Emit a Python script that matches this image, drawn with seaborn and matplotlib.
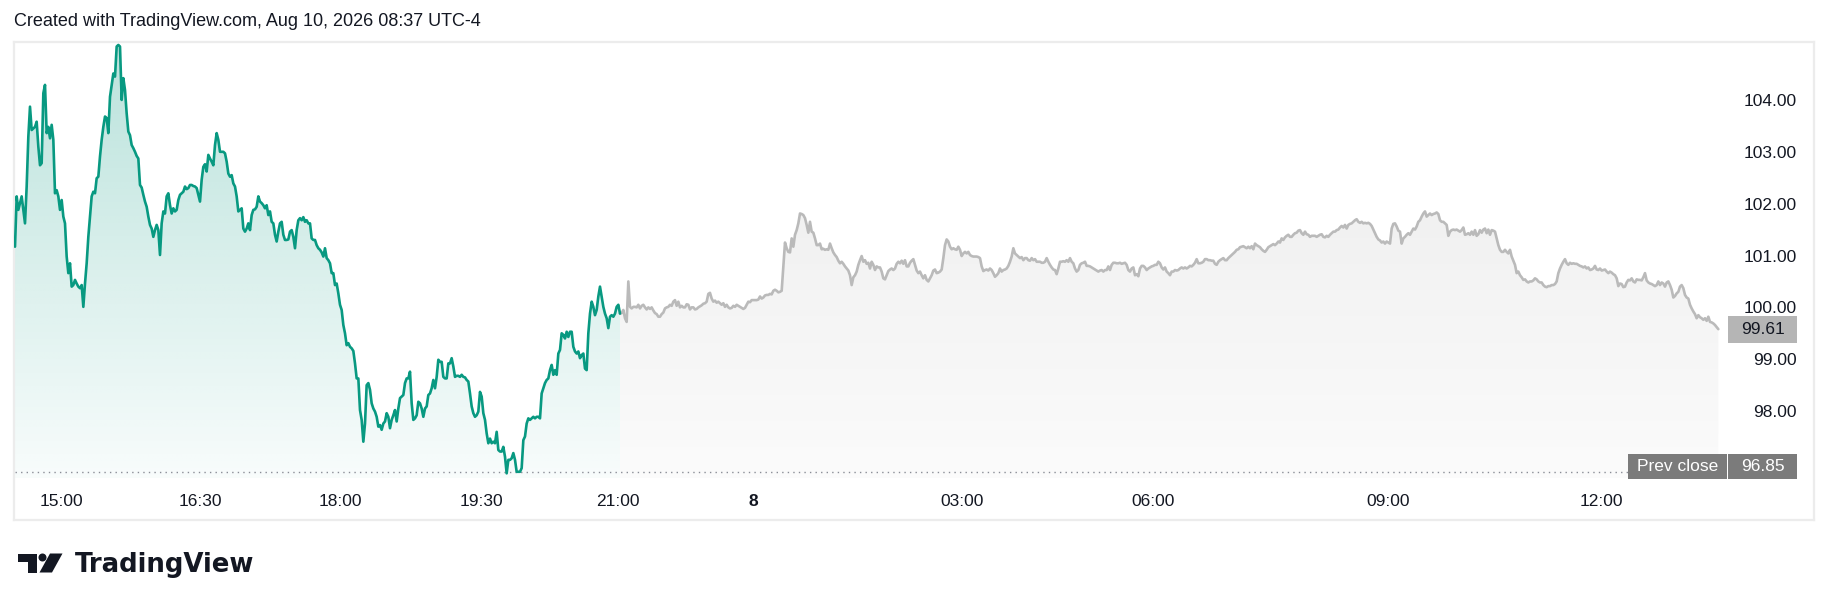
import numpy as np
import pandas as pd
import matplotlib
matplotlib.use("Agg")
import matplotlib.pyplot as plt
import matplotlib.patches as mpatches
import matplotlib.transforms as mtransforms
import seaborn as sns

# ---------------- data ----------------
TITLE = "Created with TradingView.com, Aug 10, 2026 08:37 UTC-4"
BRAND = "TradingView"
PREV_CLOSE = 96.85
PRICE_TICKS = [98.0, 99.0, 100.0, 101.0, 102.0, 103.0, 104.0]
TIME_LABELS = ["15:00", "16:30", "18:00", "19:30", "21:00", "8", "03:00", "06:00", "09:00", "12:00"]
TIME_BARS = [28, 111, 195, 280, 362, 443, 568, 683, 824, 952]
BOLD_LABELS = ["8"]

session_early = [
    101.20, 102.17, 101.91, 102.04, 102.17, 101.91, 101.65, 102.36, 103.32, 103.90,
    103.45, 103.48, 103.51, 103.61, 103.13, 102.77, 102.81, 104.16, 104.32, 103.39,
    103.51, 103.29, 103.55, 103.26, 102.23, 102.29, 102.17, 101.91, 102.10, 101.78,
    101.65, 101.01, 100.69, 100.88, 100.43, 100.46, 100.56, 100.49, 100.43, 100.40,
    100.46, 100.04, 100.49, 100.88, 101.39, 101.78, 102.17, 102.26, 102.23, 102.52,
    102.55, 102.94, 103.26, 103.51, 103.71, 103.68, 103.39, 104.09, 104.32, 104.54,
    104.48, 105.06, 105.09, 105.06, 104.03, 104.45, 104.22, 103.77, 103.42, 103.35,
    103.16, 103.10, 103.03, 102.95, 102.90, 102.39, 102.34, 102.20, 102.07, 101.97,
    101.78, 101.62, 101.55, 101.39, 101.52, 101.62, 101.52, 101.04, 101.65, 101.88,
    101.84, 102.17, 102.23, 102.00, 101.84, 101.94, 101.88, 101.91, 102.10, 102.20,
    102.23, 102.26, 102.36, 102.31, 102.33, 102.39, 102.39, 102.37, 102.36, 102.33,
    102.20, 102.07, 102.49, 102.74, 102.79, 102.65, 102.97, 102.90, 102.84, 102.77,
    103.16, 103.39, 103.26, 103.03, 103.03, 103.03, 103.00, 102.84, 102.61, 102.55,
    102.58, 102.42, 102.36, 102.17, 101.88, 101.91, 101.94, 101.55, 101.49, 101.55,
    101.65, 101.52, 101.81, 101.91, 101.92, 101.97, 102.17, 102.07, 102.04, 102.00,
    101.94, 102.00, 101.81, 101.88, 101.68, 101.65, 101.43, 101.30, 101.49, 101.65,
    101.68, 101.43, 101.33, 101.33, 101.34, 101.49, 101.52, 101.39, 101.17, 101.52,
    101.71, 101.75, 101.71, 101.77, 101.68, 101.71, 101.65, 101.65, 101.36, 101.33,
    101.33, 101.23, 101.17, 101.14, 101.09, 101.01, 101.17, 100.98, 100.94,
]

session_late = [
    100.88, 100.69, 100.69, 100.46, 100.49, 100.30, 100.08, 99.98, 99.69, 99.53,
    99.30, 99.34, 99.27, 99.24, 99.19, 98.95, 98.66, 98.66, 98.05, 97.86,
    97.44, 97.79, 98.53, 98.57, 98.44, 98.18, 98.08, 98.02, 97.92, 97.73,
    97.76, 97.67, 97.79, 97.83, 97.99, 97.92, 97.70, 97.86, 97.95, 98.05,
    97.83, 98.08, 98.28, 98.31, 98.34, 98.57, 98.66, 98.66, 98.79, 98.18,
    97.86, 97.89, 97.95, 98.21, 98.18, 98.08, 97.92, 98.08, 98.12, 98.34,
    98.37, 98.47, 98.63, 98.47, 98.69, 99.02, 98.98, 98.98, 98.69, 98.66,
    98.66, 98.95, 98.95, 99.05, 98.89, 98.69, 98.71, 98.71, 98.69, 98.73,
    98.69, 98.68, 98.63, 98.60, 98.37, 98.12, 97.99, 97.92, 97.95, 98.02,
    98.40, 98.31, 97.99, 97.86, 97.60, 97.41, 97.50, 97.41, 97.44, 97.41,
    97.63, 97.28, 97.25, 97.25, 97.34, 97.15, 96.83, 97.09, 97.09, 97.12,
    97.22, 97.09, 96.86, 96.86, 96.86, 96.93, 97.47, 97.54, 97.79, 97.89,
    97.86, 97.89, 97.92, 97.89, 97.92, 97.92, 97.89, 98.37, 98.47, 98.57,
    98.63, 98.66, 98.82, 98.92, 98.73, 98.82, 98.73, 99.14, 99.21, 99.53,
    99.50, 99.43, 99.56, 99.46, 99.56, 99.56, 99.27, 99.18, 99.14, 99.18,
    99.05, 99.11, 99.14, 98.85, 98.82, 99.53, 99.91, 100.14, 100.04, 99.88,
    99.98, 100.24, 100.43, 100.24, 100.04, 99.91, 99.82, 99.63, 99.85, 99.88,
    99.85, 99.91, 100.04, 100.08, 99.91,
]

ext_evening = [
    99.92, 99.98, 99.82, 99.75, 100.53, 100.04, 100.01, 100.04, 100.04, 100.03,
    100.08, 100.01, 100.06, 100.08, 100.03, 99.99, 100.03, 100.00, 100.03, 99.97,
    99.92, 99.90, 99.85, 99.85, 99.90, 99.93, 100.01, 100.03, 100.04, 100.08,
    100.06, 100.14, 100.17, 100.06, 100.14, 100.03, 100.06, 100.03, 100.03, 100.09,
    100.08, 99.99, 100.03, 100.03, 99.99, 100.00, 100.03, 100.05, 100.07, 100.10,
    100.11, 100.14, 100.29, 100.31, 100.20, 100.14, 100.16, 100.12, 100.14, 100.11,
    100.08, 100.11, 100.04, 100.08, 100.03, 100.01, 100.02, 100.06, 100.04, 100.08,
    100.06, 100.04, 100.02, 100.00, 100.02, 100.08, 100.14, 100.13, 100.17, 100.17,
    100.17, 100.17, 100.18, 100.24, 100.20, 100.22, 100.26, 100.27, 100.27, 100.29,
    100.28, 100.35, 100.37, 100.35, 100.32, 100.33, 100.35, 100.82, 101.28, 101.17,
    101.10, 101.09, 101.36, 101.20, 101.43, 101.52, 101.65, 101.84, 101.83, 101.81,
    101.75, 101.62, 101.47, 101.68, 101.49, 101.47, 101.36, 101.23, 101.23, 101.26,
    101.15, 101.16, 101.14, 101.15, 101.14, 101.26, 101.17, 101.09, 101.04, 101.00,
    100.93, 100.88, 100.91, 100.87, 100.82, 100.78, 100.74, 100.65, 100.46, 100.61,
    100.65, 100.72, 100.85, 100.94, 101.02, 100.91, 100.94, 100.87, 100.89, 100.78,
    100.91, 100.85, 100.75, 100.82, 100.80, 100.80, 100.72, 100.59, 100.57, 100.65,
    100.73, 100.76, 100.78, 100.75, 100.78, 100.87, 100.91, 100.88, 100.93, 100.87,
    100.94, 100.82, 100.82, 100.89, 100.93, 100.96, 100.85, 100.74, 100.69,
]

ext_night = [
    100.72, 100.65, 100.59, 100.65, 100.56, 100.53, 100.59, 100.65, 100.74, 100.76,
    100.69, 100.70, 100.72, 100.76, 100.98, 101.23, 101.34, 101.30, 101.20, 101.15,
    101.17, 101.15, 101.14, 101.20, 101.14, 101.02, 101.07, 101.10, 101.07, 101.10,
    101.04, 101.02, 101.01, 101.01, 101.01, 101.00, 100.98, 100.82, 100.73, 100.75,
    100.76, 100.74, 100.78, 100.75, 100.69, 100.62, 100.65, 100.69, 100.78, 100.72,
    100.75, 100.76, 100.78, 100.83, 100.91, 101.01, 101.17, 101.07, 101.04, 101.01,
    100.98, 101.00, 100.94, 100.98, 100.98, 100.94, 100.93, 100.98, 100.94, 100.96,
    100.91, 100.91, 100.91, 100.89, 100.89, 100.91, 100.98, 100.91, 100.85, 100.80,
    100.76, 100.75, 100.67, 100.78, 100.91, 100.91, 100.92, 100.91, 100.94, 100.91,
    100.98, 100.91, 100.88, 100.78, 100.72, 100.75, 100.85, 100.88, 100.89, 100.91,
    100.83, 100.83, 100.82, 100.80, 100.78, 100.76, 100.74, 100.72, 100.74, 100.75,
    100.72, 100.75, 100.75, 100.82, 100.75, 100.85, 100.89, 100.89, 100.88, 100.88,
    100.89, 100.87, 100.88, 100.89, 100.85, 100.75, 100.72, 100.78, 100.80, 100.65,
    100.67, 100.63, 100.78, 100.83, 100.83, 100.80, 100.75, 100.78, 100.80, 100.82,
    100.83, 100.85, 100.85, 100.91, 100.88, 100.80, 100.76, 100.80, 100.72, 100.69,
    100.65, 100.72, 100.72, 100.75, 100.74, 100.75, 100.78, 100.80, 100.78, 100.80,
    100.78, 100.80, 100.83, 100.82, 100.85, 100.89, 100.96, 100.88, 100.88, 100.89,
    100.91, 100.96, 100.96, 100.94, 100.94, 100.93, 100.93, 100.87, 100.85, 100.91,
]

ext_morning = [
    100.94, 100.96, 100.98, 100.94, 100.94, 100.98, 101.01, 101.04, 101.07, 101.10,
    101.14, 101.15, 101.19, 101.20, 101.21, 101.19, 101.17, 101.20, 101.17, 101.21,
    101.15, 101.26, 101.23, 101.21, 101.19, 101.15, 101.12, 101.10, 101.14, 101.19,
    101.21, 101.23, 101.25, 101.23, 101.26, 101.30, 101.28, 101.36, 101.33, 101.38,
    101.41, 101.43, 101.39, 101.39, 101.43, 101.46, 101.47, 101.51, 101.52, 101.46,
    101.43, 101.49, 101.44, 101.43, 101.39, 101.41, 101.41, 101.41, 101.39, 101.41,
    101.43, 101.44, 101.39, 101.38, 101.41, 101.39, 101.43, 101.46, 101.49, 101.49,
    101.52, 101.53, 101.57, 101.60, 101.57, 101.62, 101.55, 101.62, 101.64, 101.65,
    101.68, 101.71, 101.73, 101.68, 101.66, 101.68, 101.65, 101.66, 101.65, 101.66,
    101.64, 101.60, 101.53, 101.46, 101.39, 101.34, 101.32, 101.28, 101.30, 101.26,
    101.30, 101.28, 101.26, 101.55, 101.64, 101.65, 101.59, 101.51, 101.49, 101.26,
    101.36, 101.39, 101.43, 101.46, 101.43, 101.49, 101.55, 101.53, 101.59, 101.68,
    101.71, 101.78, 101.84, 101.88, 101.78, 101.81, 101.84, 101.81, 101.83, 101.84,
    101.86, 101.83, 101.71, 101.68, 101.68, 101.65, 101.62, 101.41, 101.49, 101.52,
    101.53, 101.52, 101.53, 101.51, 101.49, 101.52, 101.57, 101.43, 101.44, 101.46,
    101.43, 101.49, 101.43, 101.52, 101.41, 101.44, 101.52, 101.47, 101.53, 101.55,
    101.46, 101.53, 101.43, 101.52, 101.51, 101.49, 101.36, 101.23, 101.14, 101.10,
    101.10, 101.14, 101.10, 101.07, 101.14, 101.01, 100.93, 100.85, 100.69, 100.72,
]

ext_late = [
    100.65, 100.61, 100.56, 100.57, 100.53, 100.51, 100.53, 100.53, 100.55, 100.59,
    100.57, 100.53, 100.51, 100.51, 100.46, 100.43, 100.42, 100.44, 100.44, 100.46,
    100.46, 100.48, 100.53, 100.69, 100.78, 100.85, 100.91, 100.96, 100.88, 100.85,
    100.89, 100.87, 100.88, 100.87, 100.87, 100.85, 100.83, 100.82, 100.80, 100.82,
    100.78, 100.80, 100.75, 100.76, 100.78, 100.83, 100.76, 100.75, 100.78, 100.74,
    100.75, 100.76, 100.72, 100.69, 100.72, 100.70, 100.67, 100.65, 100.59, 100.44,
    100.49, 100.48, 100.42, 100.43, 100.51, 100.56, 100.55, 100.59, 100.53, 100.51,
    100.57, 100.56, 100.56, 100.55, 100.61, 100.69, 100.55, 100.51, 100.49, 100.48,
    100.46, 100.44, 100.46, 100.53, 100.46, 100.51, 100.49, 100.43, 100.51, 100.53,
    100.46, 100.37, 100.22, 100.25, 100.30, 100.33, 100.43, 100.46, 100.40, 100.27,
    100.22, 100.20, 100.08, 100.01, 99.95, 99.90, 99.82, 99.88, 99.84, 99.82,
    99.79, 99.82, 99.77, 99.85, 99.75, 99.74, 99.72, 99.69, 99.65, 99.61,
]

# ---------------- frames ----------------
regular = np.array(session_early + session_late)
extended = np.array(ext_evening + ext_night + ext_morning + ext_late)
n_reg = len(regular)
df_reg = pd.DataFrame({"bar": np.arange(n_reg), "price": regular})
df_ext = pd.DataFrame({
    "bar": np.arange(n_reg - 1, n_reg + len(extended)),
    "price": np.concatenate([[regular[-1]], extended]),
})
last_price = extended[-1]

# ---------------- style ----------------
sns.set_theme(style="white")
plt.rcParams["font.family"] = ["Liberation Sans", "DejaVu Sans"]

GREEN = "#089981"
GREY_LINE = "#bababa"
TEXT = "#131722"
W, H = 1830, 611
fig = plt.figure(figsize=(W / 100, H / 100), dpi=100)
fig.patch.set_facecolor("white")

# main pane (box from px 14..1814, 42..520)
ax = fig.add_axes([14 / W, 1 - 520 / H, 1800 / W, 478 / H])
ax.set_facecolor("white")
X0, X1 = -0.6, 1079.4
Y0, Y1 = 95.93, 105.147
FILL_BOTTOM = 96.74


def gradient_under(ax, x, y, rgb, a_top, a_bot, y_top, y_bot, z):
    poly = ax.fill_between(x, y, y_bot, facecolor="none", edgecolor="none", linewidth=0)
    img = np.zeros((256, 2, 4))
    img[..., 0], img[..., 1], img[..., 2] = rgb
    img[..., 3] = np.linspace(a_top, a_bot, 256)[:, None]
    im = ax.imshow(img, extent=[x.min(), x.max(), y_bot, y_top], origin="upper",
                   aspect="auto", zorder=z, interpolation="bilinear")
    im.set_clip_path(poly.get_paths()[0], transform=ax.transData)


gradient_under(ax, df_reg["bar"].to_numpy(), df_reg["price"].to_numpy(),
               (8 / 255, 153 / 255, 129 / 255), 0.28, 0.03, Y1, FILL_BOTTOM, 1)
gradient_under(ax, df_ext["bar"].to_numpy(), df_ext["price"].to_numpy(),
               (0.5, 0.5, 0.5), 0.11, 0.03, df_ext["price"].max(), FILL_BOTTOM, 1)

sns.lineplot(data=df_ext, x="bar", y="price", color=GREY_LINE, linewidth=1.9,
             estimator=None, ax=ax, zorder=3)
sns.lineplot(data=df_reg, x="bar", y="price", color=GREEN, linewidth=1.9,
             estimator=None, ax=ax, zorder=4)

ax.set_xlim(X0, X1)
ax.set_ylim(Y0, Y1)
ax.set_xlabel("")
ax.set_ylabel("")
ax.set_xticks([])
ax.set_yticks([])
for sp in ax.spines.values():
    sp.set_color("#ececec")
    sp.set_linewidth(1.6)

xa = mtransforms.blended_transform_factory(ax.transAxes, ax.transData)  # x axes, y data
dx = mtransforms.blended_transform_factory(ax.transData, ax.transAxes)  # x data, y axes

# previous close dotted line
ax.plot([0.0005, (1628 - 14) / 1800], [PREV_CLOSE, PREV_CLOSE], transform=xa,
        color="#8a8d96", linestyle=(0, (1, 3)), linewidth=1.0, zorder=2)

# price scale labels
for t in PRICE_TICKS:
    ax.text((1797 - 14) / 1800, t, f"{t:.2f}", transform=xa, ha="right", va="center",
            fontsize=12.5, color=TEXT, zorder=5)

# last price box
px_unit = 51.86  # pixels per price unit
ax.add_patch(mpatches.Rectangle(((1728 - 14) / 1800, last_price - 13.5 / px_unit), 69 / 1800,
                                27 / px_unit, transform=xa, facecolor="#b5b5b5",
                                edgecolor="none", zorder=6))
ax.text((1763 - 14) / 1800, last_price, f"{last_price:.2f}", transform=xa, ha="center",
        va="center", fontsize=12.5, color=TEXT, zorder=7)

# previous close labels
pc_mid = PREV_CLOSE + 5.8 / px_unit
ax.add_patch(mpatches.Rectangle(((1628 - 14) / 1800, pc_mid - 12.5 / px_unit), 99 / 1800,
                                25 / px_unit, transform=xa, facecolor="#7b7b7b",
                                edgecolor="none", zorder=6))
ax.add_patch(mpatches.Rectangle(((1728 - 14) / 1800, pc_mid - 12.5 / px_unit), 69 / 1800,
                                25 / px_unit, transform=xa, facecolor="#7b7b7b",
                                edgecolor="none", zorder=6))
ax.text((1677.5 - 14) / 1800, pc_mid, "Prev close", transform=xa, ha="center", va="center",
        fontsize=12.5, color="white", zorder=7)
ax.text((1763 - 14) / 1800, pc_mid, f"{PREV_CLOSE:.2f}", transform=xa, ha="center",
        va="center", fontsize=12.5, color="white", zorder=7)

# time scale labels
for b, lab in zip(TIME_BARS, TIME_LABELS):
    ax.text(b, (520 - 501) / 478, lab, transform=dx, ha="center", va="center",
            fontsize=12.5, color=TEXT, fontweight="bold" if lab in BOLD_LABELS else "normal",
            zorder=5)

# ---------------- overlay (title + logo) ----------------
ov = fig.add_axes([0, 0, 1, 1], facecolor="none")
ov.set_xlim(0, W)
ov.set_ylim(H, 0)
ov.axis("off")
ov.text(14, 21, TITLE, ha="left", va="center", fontsize=13, color=TEXT)

LOGO = "#131722"
ov.add_patch(mpatches.Polygon([(17.5, 553.5), (36.5, 553.5), (36.5, 572.5), (27.5, 572.5),
                               (27.5, 561.5), (17.5, 561.5)], closed=True,
                              facecolor=LOGO, edgecolor="none"))
ov.add_patch(mpatches.Circle((42.5, 557.5), 4.0, facecolor=LOGO, edgecolor="none"))
ov.add_patch(mpatches.Polygon([(50.0, 553.5), (62.5, 553.5), (52.0, 572.5), (39.5, 572.5)],
                              closed=True, facecolor=LOGO, edgecolor="none"))
ov.text(75, 572, BRAND, ha="left", va="baseline", fontsize=18.7, fontweight="bold",
        color=LOGO, family="DejaVu Sans")

fig.savefig("out.png", dpi=100, facecolor="white")
